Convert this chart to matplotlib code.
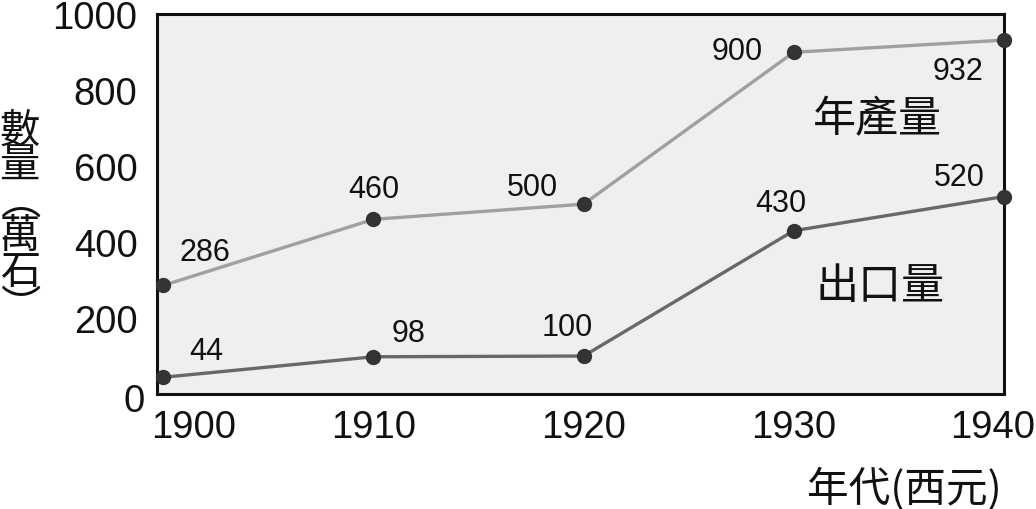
import matplotlib
matplotlib.use("Agg")
import matplotlib.pyplot as plt
from matplotlib.transforms import ScaledTranslation

plt.rcParams['font.family'] = ['Liberation Sans', 'Noto Sans CJK TC', 'DejaVu Sans']

years = [1900, 1910, 1920, 1930, 1940]
produccion = [286, 460, 500, 900, 932]
exportacion = [44, 98, 100, 430, 520]
yticks = [0, 200, 400, 600, 800, 1000]

# desplazamiento de las etiquetas de valor (puntos)
off_prod = [(30, 24), (0, 22), (-37, 12), (-41, 1), (-33, -22)]
off_exp = [(31, 19), (25, 17), (-12, 21), (-9, 20), (-32, 14)]

fig = plt.figure(figsize=(10.36, 5.10), dpi=100)
ax = fig.add_axes([0.1515, 0.2255, 0.8175, 0.7445])
ax.set_facecolor('#efefef')

ax.plot(years, produccion, color='#a0a0a0', lw=2.4, marker='o', ms=10,
        mfc='#333333', mec='#333333', clip_on=False, zorder=3)
ax.plot(years, exportacion, color='#686868', lw=2.4, marker='o', ms=10,
        mfc='#333333', mec='#333333', clip_on=False, zorder=3)

for x, y, o in zip(years, produccion, off_prod):
    ax.annotate(str(y), (x, y), xytext=o, textcoords='offset points',
                ha='center', va='center', fontsize=22, color='#111111')
for x, y, o in zip(years, exportacion, off_exp):
    ax.annotate(str(y), (x, y), xytext=o, textcoords='offset points',
                ha='center', va='center', fontsize=22, color='#111111')

cjk = ['Noto Sans CJK TC', 'DejaVu Sans']
ax.text(1934.0, 724, '年產量', family=cjk, fontsize=31, ha='center', va='center', color='#111111')
ax.text(1934.1, 284, '出口量', family=cjk, fontsize=31, ha='center', va='center', color='#111111')

ax.set_xlim(1899.7, 1940)
ax.set_ylim(0, 1000)
ax.set_xticks(years)
ax.set_yticks(yticks)
ax.tick_params(length=0, labelsize=27.5, colors='#111111')
ax.tick_params(axis='x', pad=11)
ax.tick_params(axis='y', pad=14)
for s in ax.spines.values():
    s.set_linewidth(2.2)
    s.set_color('#111111')

# primera y última etiqueta del eje x corridas como en el original
xl = ax.get_xticklabels()
xl[0].set_transform(xl[0].get_transform() + ScaledTranslation(0.30, 0, fig.dpi_scale_trans))
xl[-1].set_transform(xl[-1].get_transform() + ScaledTranslation(-0.11, 0, fig.dpi_scale_trans))
yl = ax.get_yticklabels()
yl[0].set_transform(yl[0].get_transform() + ScaledTranslation(0.07, -0.03, fig.dpi_scale_trans))

fig.text(0.019, 0.57, '數\n量\n︵\n萬\n石\n︶', family=cjk, fontsize=29,
         ha='center', va='center', linespacing=0.82, color='#111111')
fig.text(0.873, 0.04, '年代(西元)', family=cjk, fontsize=30, ha='center',
         va='center', color='#111111')

fig.savefig('out.png', dpi=100)
